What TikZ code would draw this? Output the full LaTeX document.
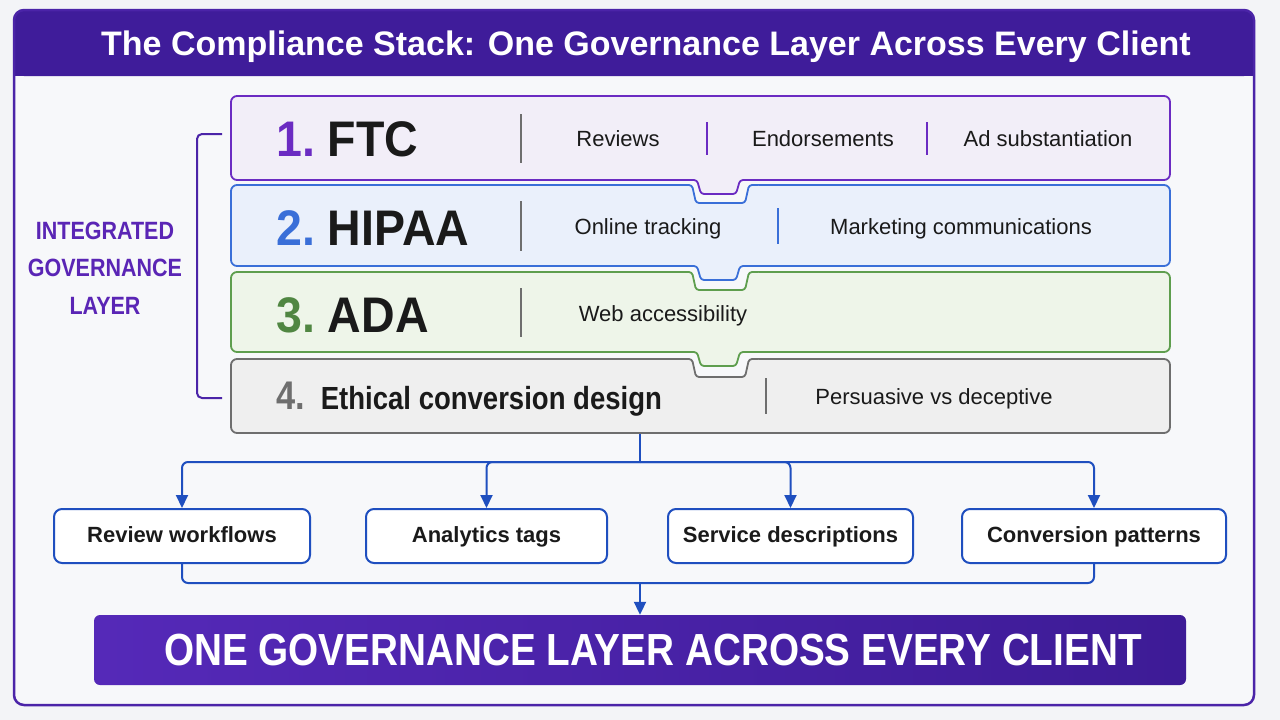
\documentclass[tikz,border=0pt]{standalone}
\usepackage{fontspec}
\setmainfont{Liberation Sans}
\newfontfamily\narrowfont[FakeStretch=0.86]{Liberation Sans}
\newfontfamily\headfont[FakeStretch=0.93]{Liberation Sans}
\usetikzlibrary{arrows.meta, positioning, calc}

\definecolor{pagebg}{HTML}{F3F4F7}
\definecolor{panelbg}{HTML}{F7F8FA}
\definecolor{hdr}{HTML}{3F1C9A}
\definecolor{framec}{HTML}{4B24A8}
\definecolor{ink}{HTML}{1A1A1A}
\definecolor{ftcline}{HTML}{6B2BC2}
\definecolor{ftcfill}{HTML}{F2EEF8}
\definecolor{hipaaline}{HTML}{3A6FD8}
\definecolor{hipaafill}{HTML}{EAF0FB}
\definecolor{adaline}{HTML}{5E9E4E}
\definecolor{adafill}{HTML}{EEF5E9}
\definecolor{ethicline}{HTML}{6E6E6E}
\definecolor{ethicfill}{HTML}{EFEFEF}
\definecolor{flow}{HTML}{1F4FBF}
\definecolor{govtxt}{HTML}{5A25B5}
\definecolor{bannerL}{HTML}{5529B8}
\definecolor{bannerR}{HTML}{3D1B96}

\begin{document}
\begin{tikzpicture}[
    x=1pt, y=-1pt,
    >={Triangle[length=13pt, width=12pt]},
    % Define styles
    layer/.style={rectangle, rounded corners=6, line width=1.8pt, minimum width=939pt, inner sep=0pt},
    rowhead/.style={anchor=base west, inner sep=0pt, font=\headfont\bfseries\fontsize{50}{52}\selectfont, text=ink},
    item/.style={inner sep=0pt, text height=16pt, text depth=5pt, font=\fontsize{22}{24}\selectfont, text=ink},
    outbox/.style={rectangle, rounded corners=8, draw=flow, line width=2pt, fill=white, minimum height=54pt, inner sep=0pt, text height=17pt, text depth=4pt, font=\bfseries\fontsize{22}{24}\selectfont, text=ink},
    bus/.style={draw=flow, line width=2pt, rounded corners=6},
    sep/.style={line width=1.4pt}
]

% Page and frame
\fill[pagebg] (0,0) rectangle (1280,720);
\useasboundingbox (0,0) rectangle (1280,720);
\fill[panelbg, rounded corners=10] (14,10) rectangle (1254,705);
\fill[hdr, rounded corners=10] (14,10) rectangle (1254,76);
\fill[hdr] (14,50) rectangle (1254,76);
\draw[framec, line width=2.5pt, rounded corners=10] (14,10) rectangle (1254,705);
\node[text=white, font=\bfseries\fontsize{34}{36}\selectfont] (title) at (646,47) {The Compliance Stack: One Governance Layer Across Every Client};

% 1. The four stacked layers
\node[layer, draw=ftcline, fill=ftcfill, minimum height=84pt] (ftc) at (700.5,138) {};
\node[layer, draw=hipaaline, fill=hipaafill, minimum height=81pt] (hipaa) at (700.5,225.5) {};
\node[layer, draw=adaline, fill=adafill, minimum height=80pt] (ada) at (700.5,312) {};
\node[layer, draw=ethicline, fill=ethicfill, minimum height=74pt] (ethic) at (700.5,396) {};

% Interlocking tabs between layers
\foreach \u/\t/\up/\lo in {180/185/ftc/hipaa, 266/272/hipaa/ada, 352/359/ada/ethic}{
    \fill[panelbg] (684,\u-1.5) rectangle (758,\t+22);
    \fill[\lo fill] (684,\t) -- (692,\t) -- (696,\t+18) -- (745,\t+18) -- (749,\t) -- (758,\t) -- (758,\t+22) -- (684,\t+22) -- cycle;
    \fill[\up fill] (695,\u-1.5) -- (697,\u) -- (701,\u+14) -- (736,\u+14) -- (740,\u) -- (742,\u-1.5) -- cycle;
    \draw[\lo line, line width=1.8pt, rounded corners=3] (684,\t) -- (692,\t) -- (696,\t+18) -- (745,\t+18) -- (749,\t) -- (758,\t);
    \draw[\up line, line width=1.8pt, rounded corners=3] (684,\u) -- (697,\u) -- (701,\u+14) -- (736,\u+14) -- (740,\u) -- (758,\u);
}

% Layer titles
\node[rowhead] (ftcname) at (276,156) {\textcolor{ftcline}{1.}\hspace{13pt}FTC};
\node[rowhead] (hipaaname) at (276,245) {\textcolor{hipaaline}{2.}\hspace{13pt}HIPAA};
\node[rowhead] (adaname) at (276,332) {\textcolor{adaline!85!black}{3.}\hspace{13pt}ADA};
\node[rowhead, font=\narrowfont\bfseries\fontsize{32}{34}\selectfont] (ethicname) at (276,409) {\textcolor{ethicline}{\fontsize{40}{40}\selectfont 4.}\hspace{16pt}Ethical conversion design};

% Dividers
\draw[sep, ethicline] (521,114) -- (521,163);
\draw[sep, ftcline] (707,122) -- (707,155);
\draw[sep, ftcline] (927,122) -- (927,155);
\draw[sep, ethicline] (521,201) -- (521,251);
\draw[sep, hipaaline] (778,208) -- (778,244);
\draw[sep, ethicline] (521,288) -- (521,337);
\draw[sep, ethicline] (766,378) -- (766,414);

% Layer items
\node[item] (reviews) at (618,140.5) {Reviews};
\node[item] (endorse) at (823,140.5) {Endorsements};
\node[item] (adsub) at (1048,140.5) {Ad substantiation};
\node[item] (tracking) at (648,229) {Online tracking};
\node[item] (marketing) at (961,229) {Marketing communications};
\node[item] (webacc) at (663,316) {Web accessibility};
\node[item] (persuade) at (934,398.5) {Persuasive vs deceptive};

% Governance bracket
\draw[framec, line width=2pt, rounded corners=5] (222,134) -- (197,134) -- (197,398) -- (222,398);
\node[align=center, text=govtxt, font=\narrowfont\bfseries\fontsize{25}{37.5}\selectfont] (govlabel) at (105,268) {INTEGRATED\\GOVERNANCE\\LAYER};

% 2. Output areas
\node[outbox, minimum width=256pt] (revwf) at (182,536) {Review workflows};
\node[outbox, minimum width=241pt] (antags) at (486.5,536) {Analytics tags};
\node[outbox, minimum width=245pt] (svcdesc) at (790.5,536) {Service descriptions};
\node[outbox, minimum width=264pt] (convpat) at (1094,536) {Conversion patterns};

% 3. Banner
\node[rectangle, rounded corners=6, left color=bannerL, right color=bannerR, minimum width=1092pt, minimum height=70pt, inner sep=0pt, text=white, font=\narrowfont\bfseries\fontsize{45}{47}\selectfont] (banner) at (640,650) {\hspace*{26pt}ONE GOVERNANCE LAYER ACROSS EVERY CLIENT};

% Connections
\coordinate (splitT) at (640,462);
\coordinate (joinB) at (640,583);
\draw[bus] (splitT |- ethic.south) -- (splitT);
\draw[bus, ->] (splitT) -| (revwf.north);
\draw[bus, ->] (splitT) -| (antags.north);
\draw[bus, ->] (splitT) -| (svcdesc.north);
\draw[bus, ->] (splitT) -| (convpat.north);
\draw[bus] (revwf.south) |- (joinB) -| (convpat.south);
\draw[bus, ->, flow] (joinB) -- (banner.north);

\end{tikzpicture}
\end{document}
